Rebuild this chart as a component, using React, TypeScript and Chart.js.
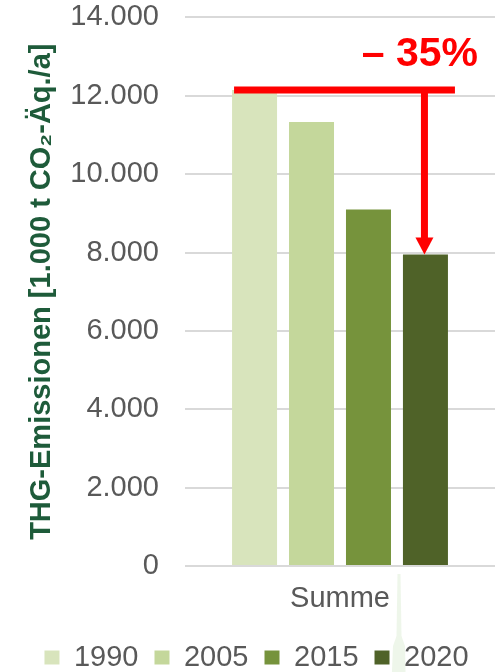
import React, { useEffect, useRef } from "react";
import { Chart, registerables } from "chart.js";

Chart.register(...registerables);

// Treibhausgas-Emissionen, Summe aller Sektoren
const categories = ["Summe"];
const years = ["1990", "2005", "2015", "2020"];
const emissions = [12150, 11330, 9100, 7950]; // 1.000 t CO2-Äq./a
const barColors = ["#d8e4bc", "#c4d79b", "#76933c", "#4f6228"];
const yTicks = { min: 0, max: 14000, step: 2000 };

const FONT = '"Liberation Sans", Arial, Helvetica, sans-serif';
const GREY_TEXT = "#595959";
const GRID = "#d9d9d9";

const formatDe = (v: number) =>
  String(Math.round(v)).replace(/\B(?=(\d{3})+(?!\d))/g, ".");

// Rote Klammer vom Ausgangswert 1990 mit Pfeil auf den Wert 2020
const reductionArrow = {
  id: "reductionArrow",
  afterDatasetsDraw(chart: any) {
    const first = chart.getDatasetMeta(0).data[0];
    const last = chart.getDatasetMeta(years.length - 1).data[0];
    if (!first || !last) return;
    const ctx = chart.ctx;
    const yTop = first.y;
    const xStart = first.x - first.width / 2 + 2;
    const xEnd = last.x + last.width / 2 + 7;
    const xArrow = last.x - 1;
    const headH = 17;
    const headW = 9;
    ctx.save();
    ctx.strokeStyle = "#ff0000";
    ctx.fillStyle = "#ff0000";
    ctx.lineWidth = 7;
    ctx.lineCap = "butt";
    ctx.beginPath();
    ctx.moveTo(xStart, yTop);
    ctx.lineTo(xEnd, yTop);
    ctx.stroke();
    ctx.beginPath();
    ctx.moveTo(xArrow, yTop);
    ctx.lineTo(xArrow, last.y - headH + 1);
    ctx.stroke();
    ctx.beginPath();
    ctx.moveTo(xArrow - headW, last.y - headH);
    ctx.lineTo(xArrow + headW, last.y - headH);
    ctx.lineTo(xArrow, last.y);
    ctx.closePath();
    ctx.fill();

    const pct = Math.round((1 - emissions[emissions.length - 1] / emissions[0]) * 100);
    ctx.font = `bold 41px ${FONT}`;
    ctx.textAlign = "right";
    ctx.textBaseline = "alphabetic";
    ctx.fillText(`\u2013 ${pct}%`, xEnd + 23, yTop - 24);
    ctx.restore();
  },
};

// Zartes grünes Hintergrundmotiv unter der Achsenbeschriftung
const backdrop = {
  id: "backdrop",
  beforeDraw(chart: any) {
    const { ctx, chartArea } = chart;
    const x = chartArea.right - 96;
    const y0 = chartArea.bottom + 8;
    ctx.save();
    ctx.fillStyle = "rgba(200, 225, 185, 0.3)";
    ctx.beginPath();
    ctx.moveTo(x - 1.5, y0);
    ctx.lineTo(x + 1.5, y0);
    ctx.lineTo(x + 2.5, y0 + 62);
    ctx.lineTo(x + 6, y0 + 72);
    ctx.lineTo(x + 7, y0 + 120);
    ctx.lineTo(x - 8, y0 + 120);
    ctx.lineTo(x - 6, y0 + 72);
    ctx.lineTo(x - 2.5, y0 + 62);
    ctx.closePath();
    ctx.fill();
    ctx.restore();
  },
};

// Legende etwas nach rechts versetzt
const legendOffset = {
  id: "legendOffset",
  afterLayout(chart: any) {
    const l = chart.legend;
    if (l) {
      l.left += 9;
      l.right += 9;
    }
  },
};

export default function App() {
  const canvasRef = useRef<HTMLCanvasElement | null>(null);

  useEffect(() => {
    if (!canvasRef.current) return;
    const chart = new Chart(canvasRef.current, {
      type: "bar",
      data: {
        labels: categories,
        datasets: years.map((year, i) => ({
          label: year,
          data: [emissions[i]],
          backgroundColor: barColors[i],
          borderWidth: 0,
          barPercentage: 0.79,
          categoryPercentage: 0.735,
        })),
      },
      options: {
        responsive: false,
        maintainAspectRatio: false,
        animation: false,
        layout: { padding: { top: 1, left: 0, right: 0, bottom: 0 } },
        font: { family: FONT },
        plugins: {
          tooltip: { enabled: false },
          legend: {
            position: "bottom",
            labels: {
              color: GREY_TEXT,
              font: { family: FONT, size: 29 },
              boxWidth: 15,
              boxHeight: 14,
              padding: 16,
            },
          },
        },
        scales: {
          x: {
            grid: { display: false, drawTicks: false },
            border: { display: false },
            ticks: {
              color: GREY_TEXT,
              font: { family: FONT, size: 29 },
              padding: 16,
            },
            afterFit: (scale: any) => {
              scale.height = 61;
            },
          },
          y: {
            min: yTicks.min,
            max: yTicks.max,
            grid: { color: GRID, lineWidth: 2, drawTicks: false },
            border: { display: false },
            ticks: {
              stepSize: yTicks.step,
              color: GREY_TEXT,
              font: { family: FONT, size: 29 },
              padding: 26,
              callback: (v: any) => formatDe(Number(v)),
            },
            title: {
              display: true,
              text: "THG-Emissionen [1.000 t CO\u2082-Äq./a]",
              color: "#1e5b3a",
              font: { family: FONT, size: 29, weight: "bold" },
              padding: { top: 25, bottom: 0 },
            },
            afterFit: (scale: any) => {
              scale.width = 185;
              scale.paddingTop = 17.4;
              scale.paddingBottom = 17.4;
            },
          },
        },
      },
      plugins: [backdrop, reductionArrow, legendOffset],
    });
    return () => chart.destroy();
  }, []);

  return (
    <div
      style={{
        position: "fixed",
        left: 0,
        top: 0,
        width: 495,
        height: 672,
        overflow: "hidden",
        background: "#ffffff",
      }}
    >
      <canvas
        ref={canvasRef}
        width={495}
        height={682}
        style={{ display: "block", width: 495, height: 682 }}
      />
    </div>
  );
}
